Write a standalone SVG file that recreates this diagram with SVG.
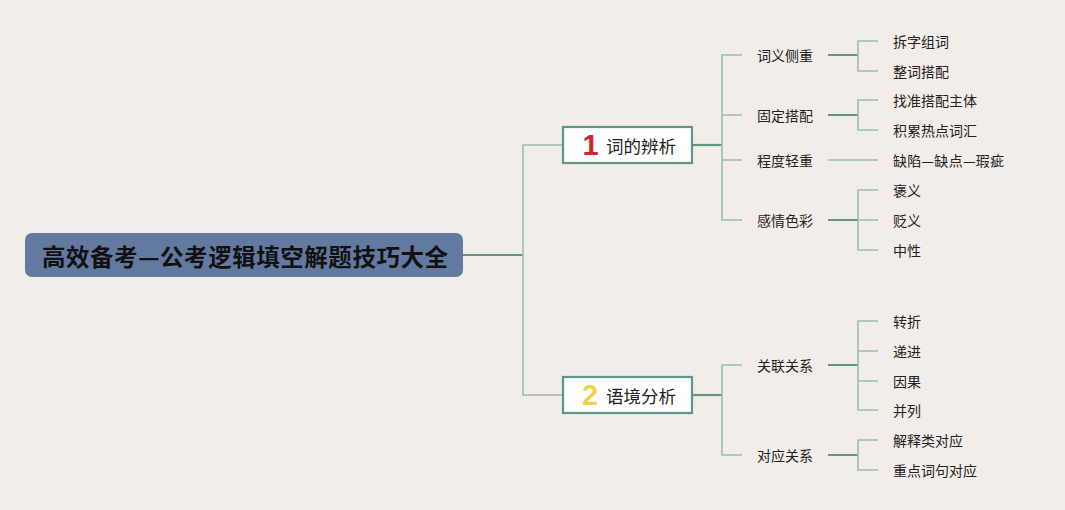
<svg xmlns="http://www.w3.org/2000/svg" width="1065" height="510" viewBox="0 0 1065 510">
<style>
.ln{fill:none;stroke:#98bfae;stroke-width:1.6}
.dk{fill:none;stroke:#5f9686;stroke-width:2.2}
.t{font-family:"Noto Sans CJK SC","Noto Sans",sans-serif;font-size:14px;fill:#222;dominant-baseline:central}
.nt{font-family:"Noto Sans CJK SC","Noto Sans",sans-serif;font-size:17.5px;fill:#222;dominant-baseline:central}
.num{font-family:"Liberation Sans","Noto Sans",sans-serif;font-weight:bold;font-size:29px;dominant-baseline:central}
.box{fill:#ffffff;stroke:#5f9686;stroke-width:2.2}
</style>
<rect width="1065" height="510" fill="#f2ede8"/>
<g id="connectors">
<path class="dk" d="M463 255H523"/>
<path class="ln" d="M563 145H523V395H563"/>
<path class="dk" d="M692 145H722"/>
<path class="ln" d="M742 55H722V220H742M722 115H742M722 160H742"/>
<path class="dk" d="M692 395H722"/>
<path class="ln" d="M742 365H722V455H742"/>
<path class="dk" d="M828 55H858M828 115H858M828 220H858M828 365H858M828 455H858"/>
<path class="ln" d="M878 41H858V71H878M878 100H858V130H878M878 190H858V250H878M858 220H878M878 321H858V410H878M858 351H878M858 381H878M878 440H858V470H878"/>
<path class="ln" d="M828 160H878"/>
</g>
<g id="root">
<rect x="25" y="233" width="438" height="44" rx="7" fill="#6279a0"/>
<text x="42" y="256" textLength="406" lengthAdjust="spacing" style="font-family:'Noto Sans CJK SC','Noto Sans',sans-serif;font-weight:bold;font-size:23.5px;fill:#111;dominant-baseline:central">高效备考—公考逻辑填空解题技巧大全</text>
</g>
<g id="n1">
<rect class="box" x="563" y="127" width="129" height="36"/>
<text class="num" x="590.5" y="145" text-anchor="middle" fill="#d7222e">1</text>
<text class="nt" x="606" y="145">词的辨析</text>
</g>
<g id="n2">
<rect class="box" x="563" y="377" width="129" height="36"/>
<text class="num" x="590" y="395" text-anchor="middle" fill="#f2d34a">2</text>
<text class="nt" x="606" y="395">语境分析</text>
</g>
<g id="n1a"><text class="t" x="757" y="55">词义侧重</text></g>
<g id="n1b"><text class="t" x="757" y="115">固定搭配</text></g>
<g id="n1c"><text class="t" x="757" y="160">程度轻重</text></g>
<g id="n1d"><text class="t" x="757" y="220">感情色彩</text></g>
<g id="n2a"><text class="t" x="757" y="365">关联关系</text></g>
<g id="n2b"><text class="t" x="757" y="455">对应关系</text></g>
<g id="l1"><text class="t" x="893" y="41">拆字组词</text></g>
<g id="l2"><text class="t" x="893" y="71">整词搭配</text></g>
<g id="l3"><text class="t" x="893" y="100">找准搭配主体</text></g>
<g id="l4"><text class="t" x="893" y="130">积累热点词汇</text></g>
<g id="l5"><text class="t" x="893" y="160" textLength="111" lengthAdjust="spacing">缺陷—缺点—瑕疵</text></g>
<g id="l6"><text class="t" x="893" y="190">褒义</text></g>
<g id="l7"><text class="t" x="893" y="220">贬义</text></g>
<g id="l8"><text class="t" x="893" y="250">中性</text></g>
<g id="l9"><text class="t" x="893" y="321">转折</text></g>
<g id="l10"><text class="t" x="893" y="351">递进</text></g>
<g id="l11"><text class="t" x="893" y="381">因果</text></g>
<g id="l12"><text class="t" x="893" y="410">并列</text></g>
<g id="l13"><text class="t" x="893" y="440">解释类对应</text></g>
<g id="l14"><text class="t" x="893" y="470">重点词句对应</text></g>
</svg>
